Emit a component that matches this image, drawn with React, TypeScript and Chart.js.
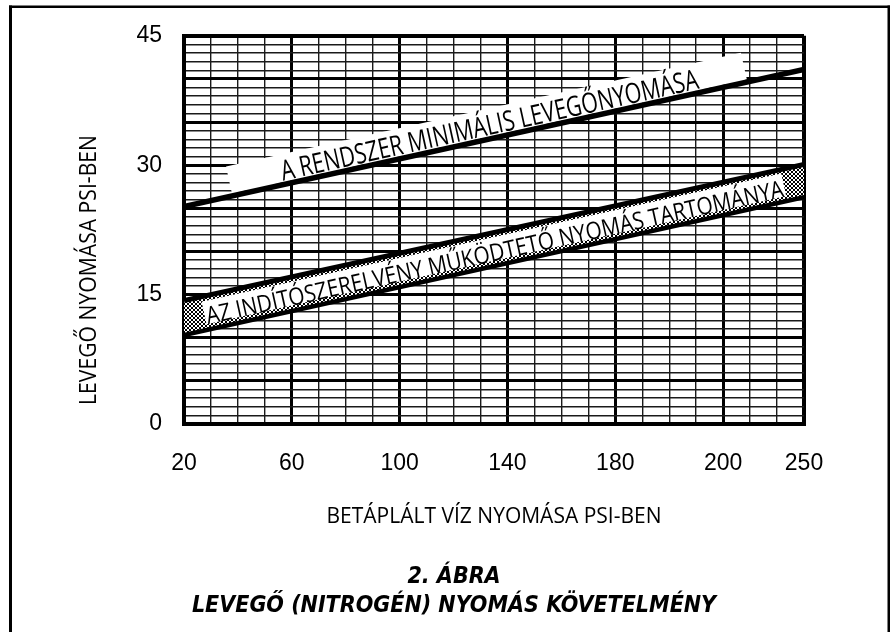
import { useEffect, useRef } from 'react';
import { Chart, registerables } from 'chart.js';

Chart.register(...registerables);

// ---- data ----
const WATER_PRESSURE = [20, 250];
const MIN_AIR = [25.2, 41.1];
const RANGE_LOW = [10.3, 26.3];
const RANGE_HIGH = [14.3, 30.1];

const X_TICK_VALUES = [20, 60, 100, 140, 180, 220, 250];
const X_TICK_LABELS = ['20', '60', '100', '140', '180', '200', '250'];
const Y_TICK_VALUES = [0, 15, 30, 45];
const Y_TICK_LABELS = ['0', '15', '30', '45'];

const MIN_AIR_LABEL = 'A RENDSZER MINIMÁLIS LEVEGŐNYOMÁSA';
const RANGE_LABEL = 'AZ INDÍTÓSZERELVÉNY MŰKÖDTETŐ NYOMÁS TARTOMÁNYA';
const X_TITLE = 'BETÁPLÁLT VÍZ NYOMÁSA PSI-BEN';
const Y_TITLE = 'LEVEGŐ NYOMÁSA PSI-BEN';
const TITLE = ['2. ÁBRA', 'LEVEGŐ (NITROGÉN) NYOMÁS KÖVETELMÉNY'];

const SANS = '"Open Sans", "DejaVu Sans", sans-serif';
const TICK_FONT = '"Liberation Sans", Arial, sans-serif';

type Seg = { ax: number; ay: number; bx: number; by: number };

function segOf(chart: any, idx: number): Seg {
  const d = chart.getDatasetMeta(idx).data;
  const a = d[0];
  const b = d[d.length - 1];
  return { ax: a.x, ay: a.y, bx: b.x, by: b.y };
}
function midSeg(s1: Seg, s2: Seg): Seg {
  return { ax: (s1.ax + s2.ax) / 2, ay: (s1.ay + s2.ay) / 2, bx: (s1.bx + s2.bx) / 2, by: (s1.by + s2.by) / 2 };
}
function at(s: Seg, px: number) {
  const t = (px - s.ax) / (s.bx - s.ax);
  return { x: px, y: s.ay + t * (s.by - s.ay) };
}
function angleOf(s: Seg) {
  return Math.atan2(s.by - s.ay, s.bx - s.ax);
}
function rotRect(ctx: CanvasRenderingContext2D, s: Seg, px0: number, px1: number, yTop: number, yBot: number) {
  const p0 = at(s, px0);
  const p1 = at(s, px1);
  const len = Math.hypot(p1.x - p0.x, p1.y - p0.y);
  ctx.save();
  ctx.translate(p0.x, p0.y);
  ctx.rotate(angleOf(s));
  ctx.fillStyle = '#fff';
  ctx.fillRect(0, yTop, len, yBot - yTop);
  ctx.restore();
}
// text of a given size, squeezed horizontally to span the given length
function fittedText(ctx: CanvasRenderingContext2D, text: string, size: number, len: number, y: number, align: CanvasTextAlign) {
  ctx.font = `${size}px ${SANS}`;
  const w = ctx.measureText(text).width;
  const k = len / w;
  ctx.scale(k, 1);
  ctx.textAlign = align;
  ctx.fillStyle = '#000';
  ctx.fillText(text, 0, y);
}
function rotText(ctx: CanvasRenderingContext2D, s: Seg, px0: number, px1: number, text: string, size: number, dy: number) {
  const p0 = at(s, px0);
  const p1 = at(s, px1);
  const len = Math.hypot(p1.x - p0.x, p1.y - p0.y);
  ctx.save();
  ctx.translate(p0.x, p0.y);
  ctx.rotate(angleOf(s));
  ctx.textBaseline = 'alphabetic';
  fittedText(ctx, text, size, len, dy, 'left');
  ctx.restore();
}

const decorPlugin = {
  id: 'decor',
  beforeDraw(chart: any) {
    const ctx = chart.ctx as CanvasRenderingContext2D;
    ctx.save();
    ctx.strokeStyle = '#000';
    ctx.lineWidth = 2.5;
    ctx.beginPath();
    ctx.moveTo(9, 6.7);
    ctx.lineTo(890, 6.7);
    ctx.stroke();
    ctx.lineWidth = 3;
    ctx.beginPath();
    ctx.moveTo(10.5, 5.5);
    ctx.lineTo(10.5, 632);
    ctx.stroke();
    ctx.lineWidth = 2.6;
    ctx.beginPath();
    ctx.moveTo(888.8, 5.5);
    ctx.lineTo(888.8, 632);
    ctx.stroke();
    ctx.restore();
  },
  beforeDatasetsDraw(chart: any) {
    const ctx = chart.ctx as CanvasRenderingContext2D;
    const xs = chart.scales.x;
    const s = segOf(chart, 0);
    rotRect(ctx, s, xs.getPixelForValue(38), xs.getPixelForValue(229), -30, -2.5);
  },
  afterDatasetsDraw(chart: any) {
    const ctx = chart.ctx as CanvasRenderingContext2D;
    const xs = chart.scales.x;
    const sMin = segOf(chart, 0);
    const band = midSeg(segOf(chart, 1), segOf(chart, 2));
    rotRect(ctx, band, xs.getPixelForValue(27.5), xs.getPixelForValue(242.5), -12, 11);
    rotText(ctx, sMin, xs.getPixelForValue(57), xs.getPixelForValue(211.7), MIN_AIR_LABEL, 28, -4);
    rotText(ctx, band, xs.getPixelForValue(28), xs.getPixelForValue(242), RANGE_LABEL, 24, 11.5);

    // vertical axis title
    ctx.save();
    ctx.translate(89, 270);
    ctx.rotate(-Math.PI / 2);
    ctx.textBaseline = 'middle';
    fittedText(ctx, Y_TITLE, 23, 270, 0, 'center');
    ctx.restore();
  },
};

function makePattern(): CanvasPattern | string {
  const pc = document.createElement('canvas');
  pc.width = 4;
  pc.height = 4;
  const p = pc.getContext('2d');
  if (!p) return '#777';
  p.fillStyle = '#fff';
  p.fillRect(0, 0, 4, 4);
  p.fillStyle = '#000';
  for (let i = 0; i < 4; i++) {
    p.fillRect(i, i, 1, 1);
    p.fillRect(3 - i, i, 1, 1);
  }
  const pat = p.createPattern(pc, 'repeat');
  return pat || '#777';
}

export default function App() {
  const ref = useRef<HTMLCanvasElement | null>(null);

  useEffect(() => {
    const canvas = ref.current;
    if (!canvas) return;
    const pattern = makePattern();
    const pts = (ys: number[]) => WATER_PRESSURE.map((x, i) => ({ x, y: ys[i] }));

    const chart = new Chart(canvas, {
      type: 'line',
      data: {
        datasets: [
          {
            label: MIN_AIR_LABEL,
            data: pts(MIN_AIR),
            borderColor: '#000',
            borderWidth: 5.5,
            pointRadius: 0,
            fill: false,
            borderCapStyle: 'butt',
          },
          {
            label: 'alsó határ',
            data: pts(RANGE_LOW),
            borderColor: '#000',
            borderWidth: 4.5,
            pointRadius: 0,
            fill: false,
            borderCapStyle: 'butt',
          },
          {
            label: RANGE_LABEL,
            data: pts(RANGE_HIGH),
            borderColor: '#000',
            borderWidth: 5,
            pointRadius: 0,
            fill: '-1',
            backgroundColor: pattern as any,
            borderCapStyle: 'butt',
          },
        ],
      },
      options: {
        animation: false,
        responsive: true,
        maintainAspectRatio: false,
        layout: { padding: { left: 104, right: 86, top: 24, bottom: 11.5 } },
        plugins: {
          legend: { display: false },
          tooltip: { enabled: false },
          title: {
            display: true,
            position: 'bottom',
            text: TITLE,
            color: '#000',
            padding: 0,
            font: {
              family: '"DejaVu Sans Condensed", "Liberation Sans", sans-serif',
              size: 23,
              weight: 'bold',
              style: 'italic',
              lineHeight: 29 / 23,
            },
          },
        },
        scales: {
          x: {
            type: 'linear',
            min: 20,
            max: 250,
            afterFit: (s: any) => {
              s.height = 138.5;
            },
            border: { display: true, color: '#000', width: 4 },
            grid: {
              drawTicks: false,
              color: (c: any) => {
                const v = c.tick ? Math.round(c.tick.value) : 0;
                return (v - 20) % 40 === 0 || v === 250 ? '#000' : '#1a1a1a';
              },
              lineWidth: (c: any) => {
                const v = c.tick ? Math.round(c.tick.value) : 0;
                if (v === 20 || v === 250) return 4;
                return (v - 20) % 40 === 0 ? 3 : 1.4;
              },
            },
            ticks: {
              stepSize: 10,
              autoSkip: false,
              maxRotation: 0,
              minRotation: 0,
              padding: 26,
              color: '#000',
              font: { family: TICK_FONT, size: 23 },
              callback: (v: any) => {
                const i = X_TICK_VALUES.indexOf(Math.round(Number(v)));
                return i >= 0 ? X_TICK_LABELS[i] : '';
              },
            },
            title: {
              display: true,
              text: X_TITLE,
              color: '#000',
              font: { family: SANS, size: 21 },
              padding: { top: 0, bottom: 33 },
            },
          },
          y: {
            type: 'linear',
            min: 0,
            max: 45,
            afterFit: (s: any) => {
              s.width = 80;
            },
            border: { display: true, color: '#000', width: 4 },
            grid: {
              drawTicks: false,
              color: (c: any) => {
                const v = c.tick ? Math.round(c.tick.value) : 0;
                return v % 5 === 0 ? '#000' : '#1a1a1a';
              },
              lineWidth: (c: any) => {
                const v = c.tick ? Math.round(c.tick.value) : 0;
                if (v === 0 || v === 45) return 4;
                return v % 5 === 0 ? 3 : 1.4;
              },
            },
            ticks: {
              stepSize: 1,
              autoSkip: false,
              padding: 22,
              color: '#000',
              font: { family: TICK_FONT, size: 23 },
              callback: (v: any) => {
                const i = Y_TICK_VALUES.indexOf(Math.round(Number(v)));
                return i >= 0 ? Y_TICK_LABELS[i] : '';
              },
            },
          },
        },
      },
      plugins: [decorPlugin],
    } as any);

    return () => chart.destroy();
  }, []);

  return (
    <div style={{ position: 'absolute', left: 0, top: 0, width: 890, height: 632, background: '#fff' }}>
      <canvas ref={ref} />
    </div>
  );
}
